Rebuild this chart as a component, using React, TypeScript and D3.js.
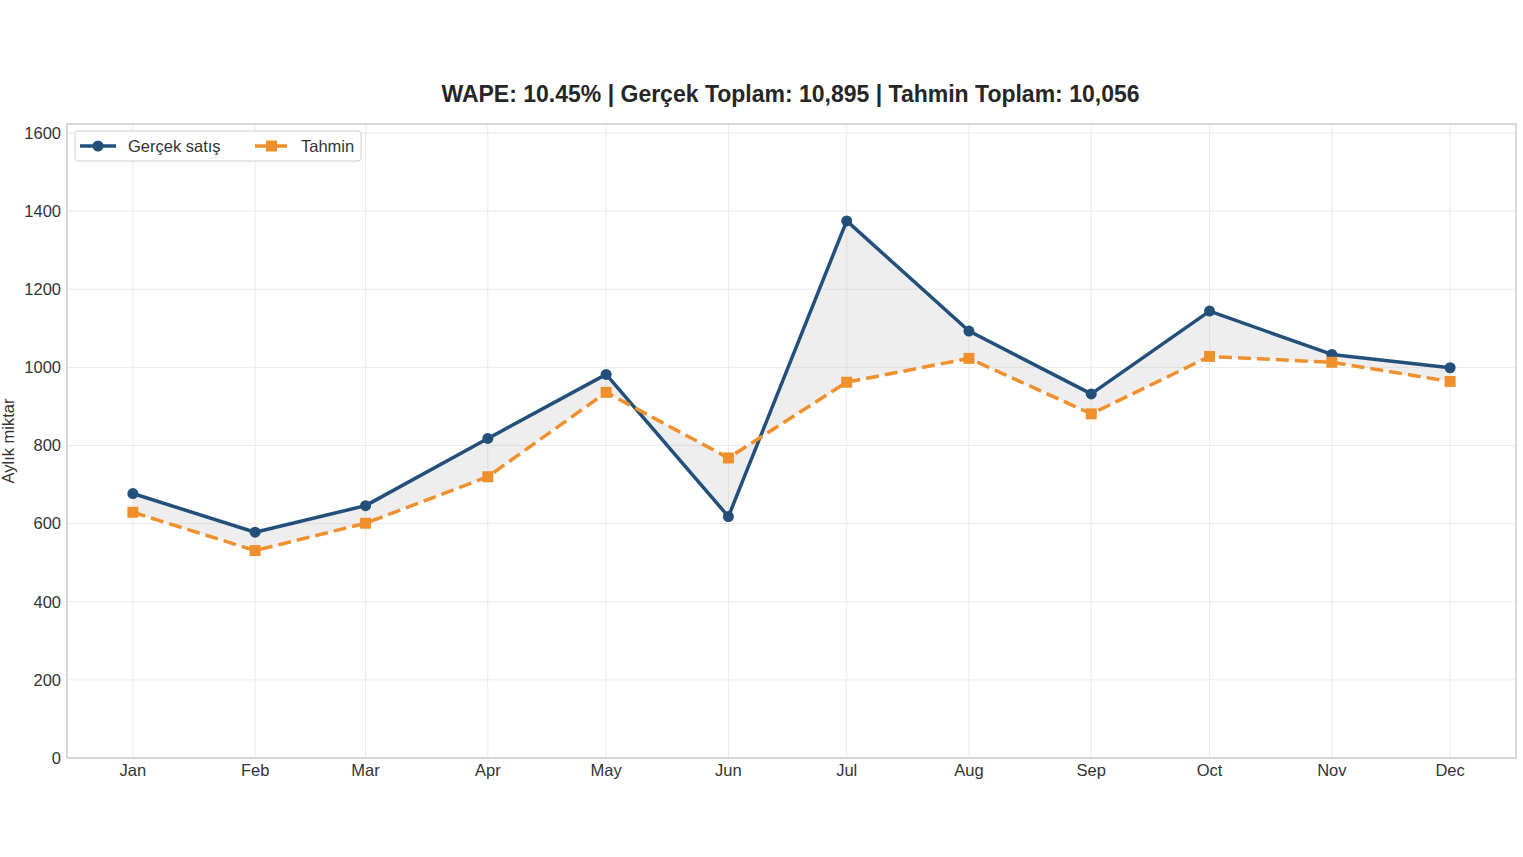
import React from "react";
import * as d3 from "d3";

// Monthly sales: actual vs forecast (2023, month starts)
const months = ["Jan", "Feb", "Mar", "Apr", "May", "Jun", "Jul", "Aug", "Sep", "Oct", "Nov", "Dec"];
const actualSales = [677, 578, 646, 818, 982, 618, 1375, 1093, 932, 1144, 1033, 999];
const forecastSales = [629, 531, 601, 720, 936, 768, 962, 1023, 881, 1028, 1013, 964];
const yTicks = [0, 200, 400, 600, 800, 1000, 1200, 1400, 1600];
const seriesNames = ["Gerçek satış", "Tahmin"];
const yLabel = "Aylık miktar";

const W = 1523;
const H = 857;
const M = { left: 67, right: 1516, top: 124, bottom: 758 };
const FONT = "'Liberation Sans', Arial, Helvetica, sans-serif";
const BLUE = "#22507a";
const ORANGE = "#f0902c";
const TICK_FS = 16.5;

type Row = { date: Date; actual: number; forecast: number };

export default function App() {
  const rows: Row[] = months.map((_, i) => ({
    date: new Date(2023, i, 1),
    actual: actualSales[i],
    forecast: forecastSales[i],
  }));

  const first = rows[0].date.getTime();
  const last = rows[rows.length - 1].date.getTime();
  const pad = (last - first) * 0.05;
  const x = d3
    .scaleTime()
    .domain([new Date(first - pad), new Date(last + pad)])
    .range([M.left, M.right]);
  const y = d3.scaleLinear().domain([0, 1623]).range([M.bottom, M.top]);

  const totalActual = d3.sum(actualSales);
  const totalForecast = d3.sum(forecastSales);
  const absErr = d3.sum(rows, (r) => Math.abs(r.actual - r.forecast));
  const wape = (absErr / totalActual) * 100;
  const fmt = d3.format(",");
  const title = `WAPE: ${wape.toFixed(2)}% | Gerçek Toplam: ${fmt(totalActual)} | Tahmin Toplam: ${fmt(totalForecast)}`;

  const lineActual = d3
    .line<Row>()
    .x((d) => x(d.date))
    .y((d) => y(d.actual));
  const lineForecast = d3
    .line<Row>()
    .x((d) => x(d.date))
    .y((d) => y(d.forecast));
  const band = d3
    .area<Row>()
    .x((d) => x(d.date))
    .y0((d) => y(d.forecast))
    .y1((d) => y(d.actual));

  const gridColor = "#ebebeb";
  const textColor = "#333333";

  return (
    <svg
      width={W}
      height={H}
      style={{ position: "absolute", left: 0, top: 0, background: "#fff" }}
      fontFamily={FONT}
    >
      <rect x={0} y={0} width={W} height={H} fill="#fff" />

      {/* grid */}
      {yTicks.map((t) => (
        <line key={"gy" + t} x1={M.left} x2={M.right} y1={y(t)} y2={y(t)} stroke={gridColor} strokeWidth={1} />
      ))}
      {rows.map((r, i) => (
        <line key={"gx" + i} x1={x(r.date)} x2={x(r.date)} y1={M.top} y2={M.bottom} stroke={gridColor} strokeWidth={1} />
      ))}

      {/* gap between actual and forecast */}
      <path d={band(rows) || ""} fill="#b0b0b0" fillOpacity={0.22} stroke="none" />

      {/* actual */}
      <path d={lineActual(rows) || ""} fill="none" stroke={BLUE} strokeWidth={3.5} strokeLinejoin="round" />
      {rows.map((r, i) => (
        <circle key={"ca" + i} cx={x(r.date)} cy={y(r.actual)} r={5.5} fill={BLUE} />
      ))}

      {/* forecast */}
      <path
        d={lineForecast(rows) || ""}
        fill="none"
        stroke={ORANGE}
        strokeWidth={3.5}
        strokeDasharray="13,6"
      />
      {rows.map((r, i) => (
        <rect key={"sf" + i} x={x(r.date) - 5.5} y={y(r.forecast) - 5.5} width={11} height={11} fill={ORANGE} />
      ))}

      {/* frame */}
      <rect
        x={M.left}
        y={M.top}
        width={M.right - M.left}
        height={M.bottom - M.top}
        fill="none"
        stroke="#cccccc"
        strokeWidth={1.5}
      />

      {/* y ticks */}
      {yTicks.map((t) => (
        <text key={"ty" + t} x={M.left - 6} y={y(t)} dy="0.35em" textAnchor="end" fontSize={TICK_FS} fill={textColor}>
          {t}
        </text>
      ))}
      {/* x ticks */}
      {rows.map((r, i) => (
        <text key={"tx" + i} x={x(r.date)} y={M.bottom + 18} textAnchor="middle" fontSize={TICK_FS} fill={textColor}>
          {months[i]}
        </text>
      ))}

      <text
        transform={`translate(14,${(M.top + M.bottom) / 2}) rotate(-90)`}
        textAnchor="middle"
        fontSize={TICK_FS}
        fill={textColor}
      >
        {yLabel}
      </text>

      <text x={(M.left + M.right) / 2 - 1} y={102} textAnchor="middle" fontSize={23} fontWeight="bold" fill="#262626">
        {title}
      </text>

      {/* legend */}
      <g>
        <rect x={75} y={131} width={286} height={30} rx={3} fill="#fff" fillOpacity={0.9} stroke="#d0d0d0" strokeWidth={1} />
        <line x1={80} x2={116} y1={146} y2={146} stroke={BLUE} strokeWidth={3.5} />
        <circle cx={98} cy={146} r={5.5} fill={BLUE} />
        <text x={128} y={146} dy="0.35em" fontSize={TICK_FS} fill={textColor}>
          {seriesNames[0]}
        </text>
        <line x1={255} x2={288} y1={146} y2={146} stroke={ORANGE} strokeWidth={3.5} strokeDasharray="13,6" />
        <rect x={266} y={140.5} width={11} height={11} fill={ORANGE} />
        <text x={301} y={146} dy="0.35em" fontSize={TICK_FS} fill={textColor}>
          {seriesNames[1]}
        </text>
      </g>
    </svg>
  );
}
